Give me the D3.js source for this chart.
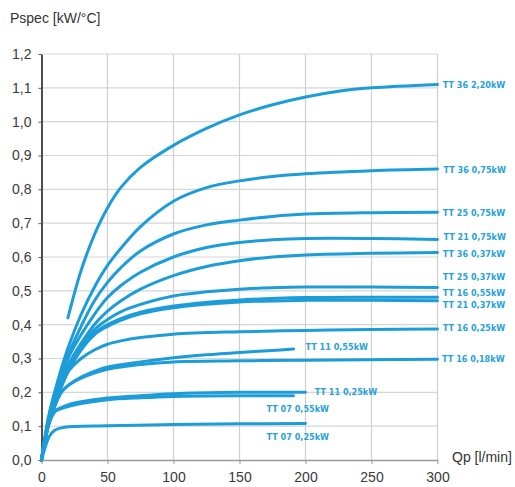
<!DOCTYPE html>
<html><head><meta charset="utf-8">
<script src="https://cdn.jsdelivr.net/npm/d3@7"></script>
<style>
html,body{margin:0;padding:0;background:#fff;}
svg{display:block;}
</style></head>
<body>
<svg id="chart" width="515" height="487"></svg>
<script>
// ---------- DATA ----------
const seriesNames = [
  "TT 36 2,20kW","TT 36 0,75kW","TT 25 0,75kW","TT 21 0,75kW","TT 36 0,37kW",
  "TT 25 0,37kW","TT 16 0,55kW","TT 21 0,37kW","TT 16 0,25kW","TT 11 0,55kW",
  "TT 16 0,18kW","TT 11 0,25kW","TT 07 0,55kW","TT 07 0,25kW"
];
const seriesFlows = [
  [20,30,40,50,60,75,100,125,150,175,200,225,250,300],
  [0,5,10,15,20,30,40,50,60,75,100,125,150,175,200,250,300],
  [0,5,10,15,20,30,40,50,60,75,100,125,150,175,200,250,300],
  [0,5,10,15,20,30,40,50,60,75,100,125,150,175,200,250,300],
  [0,5,10,15,20,30,40,50,60,75,100,125,150,175,200,250,300],
  [0,5,10,15,20,30,40,50,60,75,100,125,150,175,200,250,300],
  [0,5,10,15,20,30,40,50,60,75,100,150,200,250,300],
  [0,5,10,15,20,30,40,50,60,75,100,150,200,250,300],
  [0,5,10,15,20,30,40,50,60,75,100,150,200,250,300],
  [0,5,10,15,20,30,40,50,75,100,125,150,175,191],
  [0,5,10,15,20,30,40,50,75,100,150,200,300],
  [0,3,5,10,15,20,30,50,75,100,150,200],
  [0,3,5,10,15,20,30,50,75,100,150,191],
  [0,3,6,10,15,25,50,100,150,200]
];
const seriesValues = [
  [0.42,0.56,0.665,0.745,0.805,0.865,0.93,0.98,1.02,1.05,1.073,1.09,1.10,1.11],
  [0,0.12,0.20,0.27,0.33,0.43,0.51,0.575,0.625,0.69,0.765,0.805,0.825,0.838,0.846,0.855,0.86],
  [0,0.12,0.20,0.26,0.31,0.395,0.47,0.525,0.568,0.618,0.668,0.695,0.709,0.72,0.727,0.731,0.732],
  [0,0.11,0.19,0.25,0.30,0.37,0.43,0.48,0.515,0.555,0.60,0.628,0.643,0.651,0.655,0.655,0.652],
  [0,0.10,0.17,0.23,0.28,0.345,0.40,0.44,0.47,0.505,0.545,0.572,0.589,0.60,0.606,0.611,0.613],
  [0,0.10,0.17,0.23,0.275,0.34,0.385,0.415,0.438,0.46,0.485,0.497,0.505,0.509,0.511,0.511,0.51],
  [0,0.10,0.16,0.22,0.265,0.33,0.375,0.40,0.418,0.437,0.455,0.473,0.48,0.481,0.481],
  [0,0.10,0.16,0.215,0.26,0.325,0.37,0.395,0.413,0.432,0.45,0.467,0.472,0.472,0.471],
  [0,0.10,0.17,0.22,0.26,0.30,0.325,0.342,0.352,0.362,0.372,0.379,0.383,0.386,0.387],
  [0,0.10,0.16,0.20,0.22,0.245,0.262,0.275,0.29,0.302,0.311,0.318,0.324,0.328],
  [0,0.10,0.16,0.20,0.22,0.242,0.257,0.268,0.282,0.29,0.293,0.295,0.298],
  [0,0.07,0.10,0.145,0.155,0.163,0.172,0.183,0.19,0.196,0.20,0.20],
  [0,0.07,0.10,0.142,0.152,0.158,0.167,0.178,0.184,0.188,0.19,0.19],
  [0,0.04,0.07,0.088,0.095,0.099,0.101,0.105,0.107,0.108]
];
// label anchors in data units (flow, value)
const labelFlows  = [304,304.5,304,304.5,304,304,304,304,304,200,303.5,207,170.5,170.5];
const labelValues = [1.108,0.857,0.730,0.659,0.609,0.541,0.495,0.460,0.390,0.334,0.299,0.201,0.151,0.068];
const xTicks = [0,50,100,150,200,250,300];
const yTicks = [0,0.1,0.2,0.3,0.4,0.5,0.6,0.7,0.8,0.9,1.0,1.1,1.2];
const yTitle = "Pspec [kW/°C]";
const xTitle = "Qp [l/min]";

// ---------- DRAW ----------
const svg = d3.select("#chart");
const x = d3.scaleLinear().domain([0,300]).range([41.5,437.5]);
const y = d3.scaleLinear().domain([0,1.2]).range([460,54]);
const blue = "#1c9dd9";
const fmt = d => d3.format(".1f")(d).replace(".", ",");

// grid
svg.append("g").selectAll("line.h").data(yTicks.filter(d=>d>0)).join("line")
  .attr("x1",x(0)).attr("x2",x(300)).attr("y1",d=>y(d)).attr("y2",d=>y(d))
  .attr("stroke","#d6d6d6").attr("stroke-width",1.2);
svg.append("g").selectAll("line.v").data(xTicks.filter(d=>d>0)).join("line")
  .attr("x1",d=>x(d)).attr("x2",d=>x(d)).attr("y1",y(0)).attr("y2",y(1.2))
  .attr("stroke","#cfcfcf").attr("stroke-width",1.2);

// axes
const xAxis = svg.append("g").attr("transform",`translate(0,${y(0)})`)
  .call(d3.axisBottom(x).tickValues(xTicks).tickSize(4).tickSizeOuter(0).tickPadding(8));
xAxis.select(".domain").attr("stroke","#9a9a9a").attr("stroke-width",1.3);
xAxis.selectAll(".tick line").attr("stroke","#9a9a9a");
xAxis.selectAll("text").attr("font-family","Liberation Sans, Arial, sans-serif")
  .attr("font-size",14).attr("fill","#3a3a3a");

const yAxis = svg.append("g").attr("transform",`translate(${x(0)},0)`)
  .call(d3.axisLeft(y).tickValues(yTicks).tickFormat(fmt).tickSize(3).tickSizeOuter(0).tickPadding(7));
yAxis.select(".domain").attr("stroke","#222").attr("stroke-width",1.6);
yAxis.selectAll(".tick line").attr("stroke","#555");
yAxis.selectAll("text").attr("font-family","Liberation Sans, Arial, sans-serif")
  .attr("font-size",14).attr("fill","#3a3a3a");

// curves
const line = d3.line().x(d=>x(d[0])).y(d=>y(d[1])).curve(d3.curveCatmullRom.alpha(0.5));
const seriesData = seriesNames.map((n,i)=>({name:n, pts: seriesFlows[i].map((q,j)=>[q, seriesValues[i][j]])}));
svg.append("g").selectAll("path").data(seriesData).join("path")
  .attr("d",d=>line(d.pts)).attr("fill","none").attr("stroke",blue)
  .attr("stroke-width",3).attr("stroke-linecap","round").attr("stroke-linejoin","round");

// labels
svg.append("g").selectAll("text").data(seriesNames).join("text")
  .attr("x",(d,i)=>x(labelFlows[i])).attr("y",(d,i)=>y(labelValues[i]))
  .attr("dy","0.35em")
  .attr("font-family","Liberation Sans Narrow, Arial Narrow, DejaVu Sans Condensed, sans-serif")
  .attr("font-weight","bold").attr("font-size",9).attr("fill","#27a2dc")
  .text(d=>d);

// titles
svg.append("text").attr("x",10).attr("y",23).text(yTitle)
  .attr("font-family","Liberation Sans, Arial, sans-serif").attr("font-size",14).attr("fill","#333");
svg.append("text").attr("x",452).attr("y",462).text(xTitle)
  .attr("font-family","Liberation Sans, Arial, sans-serif").attr("font-size",14).attr("fill","#333");
</script>
</body></html>
